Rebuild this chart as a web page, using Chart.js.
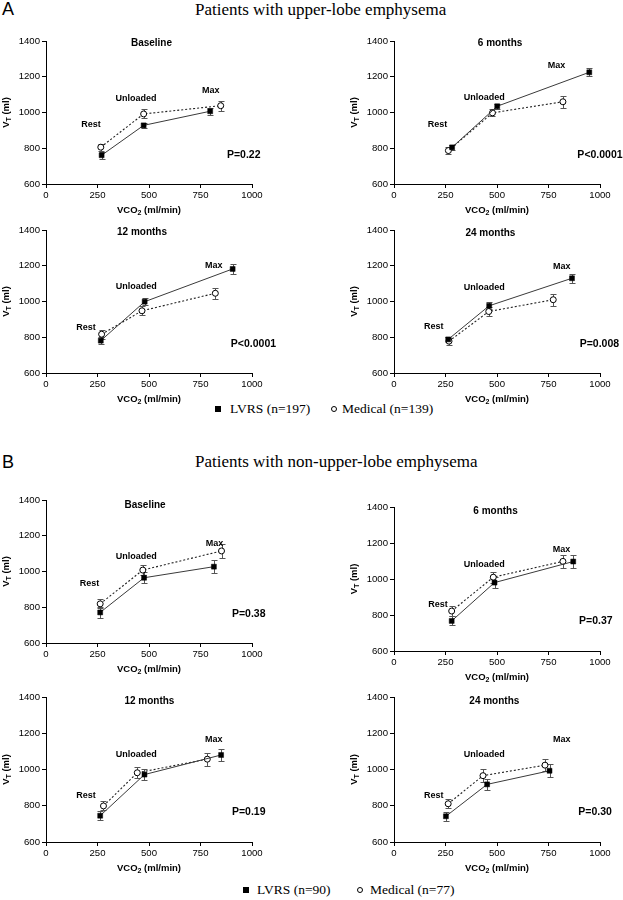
<!DOCTYPE html>
<html>
<head>
<meta charset="utf-8">
<script src="https://cdn.jsdelivr.net/npm/chart.js@4.4.0/dist/chart.umd.min.js"></script>
<style>
  html, body { margin: 0; padding: 0; background: #fff; }
  body { width: 623px; height: 900px; position: relative; overflow: hidden; }
  canvas { position: absolute; }
  .letter { position: absolute; left: 2px; font: 18px/18px "Liberation Sans", Arial, sans-serif; }
  .title { position: absolute; left: 195px; font: 17px/17px "Liberation Serif", "Times New Roman", serif; white-space: nowrap; }
  .leg { position: absolute; font: 13.5px/16px "Liberation Serif", "Times New Roman", serif; white-space: nowrap; }
  .sq { position: absolute; width: 6px; height: 6px; background: #000; }
  .ci { position: absolute; width: 4px; height: 4px; border: 1px solid #000; border-radius: 50%; }
</style>
</head>
<body>
<div class="letter" style="top:0px">A</div>
<div class="title" style="top:1px">Patients with upper-lobe emphysema</div>
<div class="letter" style="top:453px">B</div>
<div class="title" style="top:453px">Patients with non-upper-lobe emphysema</div>

<div class="sq" style="left:215px;top:406px"></div>
<div class="leg" style="left:230px;top:401px">LVRS (n=197)</div>
<div class="ci" style="left:331px;top:406px"></div>
<div class="leg" style="left:342px;top:401px">Medical (n=139)</div>

<div class="sq" style="left:243px;top:887px"></div>
<div class="leg" style="left:257px;top:882px">LVRS (n=90)</div>
<div class="ci" style="left:357px;top:887px"></div>
<div class="leg" style="left:370px;top:882px">Medical (n=77)</div>

<script>
const xTicks = [0, 250, 500, 750, 1000];
const yTicks = [600, 800, 1000, 1200, 1400];
const phases = ['Rest', 'Unloaded', 'Max'];
const panelTitles = ['Baseline', '6 months', '12 months', '24 months'];
const pTextA = ['P=0.22', 'P<0.0001', 'P<0.0001', 'P=0.008'];
const pTextB = ['P=0.38', 'P=0.37', 'P=0.19', 'P=0.30'];

// upper-lobe group: VCO2 (ml/min), VT (ml), error (ml) at Rest / Unloaded / Max
const lvrsVco2A = [[270, 474, 797], [282, 501, 948], [266, 479, 906], [263, 462, 864]];
const lvrsVtA   = [[761, 928, 1007], [805, 1035, 1225], [781, 999, 1182], [788, 976, 1130]];
const lvrsErrA  = [[20, 15, 20], [15, 15, 22], [20, 20, 28], [15, 20, 25]];
const medVco2A  = [[266, 474, 848], [264, 478, 820], [270, 466, 822], [267, 460, 773]];
const medVtA    = [[806, 992, 1038], [787, 998, 1060], [817, 948, 1046], [778, 944, 1010]];
const medErrA   = [[20, 25, 28], [20, 20, 33], [25, 25, 30], [20, 25, 33]];

// non-upper-lobe group
const lvrsVco2B = [[263, 476, 815], [280, 488, 870], [263, 478, 850], [252, 452, 755]];
const lvrsVtB   = [[771, 965, 1027], [767, 980, 1097], [745, 972, 1080], [742, 918, 993]];
const lvrsErrB  = [[33, 30, 35], [25, 30, 35], [25, 32, 35], [25, 32, 35]];
const medVco2B  = [[263, 470, 852], [280, 482, 820], [279, 443, 783], [263, 432, 733]];
const medVtB    = [[819, 1008, 1115], [822, 1010, 1098], [799, 982, 1057], [811, 966, 1024]];
const medErrB   = [[25, 30, 38], [28, 30, 35], [25, 30, 35], [25, 35, 35]];

// layout: plot area left, top, height (page px)
const boxes = [
  [46, 41, 143], [394, 41, 143], [46, 230, 143], [394, 230, 143],
  [46, 500, 143], [394, 507, 144], [46, 697, 145], [394, 697, 145]
];
// text placement in axis units: panel title, phase labels, p value
const notesA = [
  { title: [512, 1387], phase: [[218, 930], [437, 1081], [800, 1124]], p: [960, 761] },
  { title: [515, 1387], phase: [[211, 934], [438, 1082], [789, 1261]], p: [1000, 763] },
  { title: [466, 1385], phase: [[194, 857], [438, 1084], [814, 1199]], p: [1007, 764] },
  { title: [468, 1382], phase: [[193, 858], [438, 1080], [814, 1197]], p: [997, 762] }
];
const notesB = [
  { title: [481, 1370], phase: [[211, 935], [438, 1084], [818, 1158]], p: [984, 764] },
  { title: [493, 1378], phase: [[214, 859], [438, 1081], [813, 1163]], p: [980, 765] },
  { title: [502, 1376], phase: [[194, 858], [438, 1084], [814, 1163]], p: [984, 766] },
  { title: [487, 1376], phase: [[193, 858], [438, 1084], [814, 1163]], p: [976, 766] }
];

const SANS = '"Liberation Sans", Arial, sans-serif';

function subText(ctx, a, sub, b, cx, cy) {
  const main = 'bold 9.5px ' + SANS, small = 'bold 7px ' + SANS;
  ctx.font = main; const w1 = ctx.measureText(a).width, w3 = ctx.measureText(b).width;
  ctx.font = small; const w2 = ctx.measureText(sub).width;
  let x0 = cx - (w1 + w2 + w3) / 2;
  ctx.textAlign = 'left';
  ctx.font = main; ctx.fillText(a, x0, cy);
  ctx.font = small; ctx.fillText(sub, x0 + w1, cy + 3);
  ctx.font = main; ctx.fillText(b, x0 + w1 + w2, cy);
}

const panelPlugin = {
  id: 'panel',
  beforeDatasetsDraw(chart) {
    const { ctx, scales: { x, y } } = chart;
    ctx.save();
    ctx.strokeStyle = '#555';
    ctx.lineWidth = 1;
    chart.data.datasets.forEach(ds => {
      ds.data.forEach((p, i) => {
        const px = Math.round(x.getPixelForValue(p.x)) + 0.5;
        const t = Math.round(y.getPixelForValue(p.y + ds.err[i])) + 0.5;
        const b = Math.round(y.getPixelForValue(p.y - ds.err[i])) + 0.5;
        ctx.beginPath();
        ctx.moveTo(px, t); ctx.lineTo(px, b);
        ctx.moveTo(px - 3, t); ctx.lineTo(px + 3, t);
        ctx.moveTo(px - 3, b); ctx.lineTo(px + 3, b);
        ctx.stroke();
      });
    });
    ctx.restore();
  },
  afterDraw(chart, args, opts) {
    const { ctx, chartArea: a, scales: { x, y } } = chart;
    const n = opts.notes;
    ctx.save();
    ctx.fillStyle = '#000';
    ctx.textAlign = 'center';
    ctx.textBaseline = 'middle';
    ctx.font = 'bold 10px ' + SANS;
    ctx.fillText(opts.title, x.getPixelForValue(n.title[0]), y.getPixelForValue(n.title[1]));
    ctx.font = 'bold 9px ' + SANS;
    phases.forEach((ph, k) => {
      ctx.fillText(ph, x.getPixelForValue(n.phase[k][0]), y.getPixelForValue(n.phase[k][1]));
    });
    ctx.font = 'bold 10.5px ' + SANS;
    ctx.fillText(opts.pText, x.getPixelForValue(n.p[0]), y.getPixelForValue(n.p[1]));

    subText(ctx, 'VCO', '2', ' (ml/min)', (a.left + a.right) / 2, a.bottom + 26);
    ctx.translate(a.left - 40, (a.top + a.bottom) / 2);
    ctx.rotate(-Math.PI / 2);
    subText(ctx, 'V', 'T', ' (ml)', 0, 0);
    ctx.restore();
  }
};

function makePanel(box, vco2L, vtL, errL, vco2M, vtM, errM, title, pText, notes) {
  const [left, top, h] = box;
  const padR = Math.min(60, 623 - left - 206);
  const W = 46 + 206 + padR, H = 10 + h + 40;
  const canvas = document.createElement('canvas');
  canvas.width = W; canvas.height = H;
  canvas.style.width = W + 'px'; canvas.style.height = H + 'px';
  canvas.style.left = (left - 46) + 'px';
  canvas.style.top = (top - 10) + 'px';
  document.body.appendChild(canvas);

  const tickFont = { family: SANS, size: 9.6 };
  new Chart(canvas, {
    type: 'scatter',
    data: {
      datasets: [
        {
          label: 'LVRS',
          data: vco2L.map((v, k) => ({ x: v, y: vtL[k] })),
          err: errL,
          showLine: true,
          borderColor: '#3a3a3a',
          borderWidth: 1,
          pointStyle: 'rect',
          pointRadius: 3.5,
          pointBackgroundColor: '#000',
          pointBorderColor: '#000',
          pointBorderWidth: 0.5
        },
        {
          label: 'Medical',
          data: vco2M.map((v, k) => ({ x: v, y: vtM[k] })),
          err: errM,
          showLine: true,
          borderColor: '#222',
          borderWidth: 1.1,
          borderDash: [2, 2],
          pointStyle: 'circle',
          pointRadius: 3,
          pointBackgroundColor: '#fff',
          pointBorderColor: '#000',
          pointBorderWidth: 1
        }
      ]
    },
    options: {
      responsive: false,
      animation: false,
      devicePixelRatio: 1,
      layout: { padding: { left: 0, top: 10, right: padR, bottom: 0 } },
      plugins: {
        legend: { display: false },
        tooltip: { enabled: false },
        panel: { title, pText, notes }
      },
      scales: {
        x: {
          type: 'linear',
          min: xTicks[0], max: xTicks[xTicks.length - 1],
          afterBuildTicks: s => { s.ticks = xTicks.map(v => ({ value: v })); },
          afterFit: s => { s.height = 40; },
          ticks: { font: tickFont, color: '#000', padding: 2, maxRotation: 0, autoSkip: false, callback: v => String(v) },
          grid: { drawOnChartArea: false, color: '#000', tickLength: 4 },
          border: { color: '#000', width: 1 }
        },
        y: {
          min: yTicks[0], max: yTicks[yTicks.length - 1],
          afterBuildTicks: s => { s.ticks = yTicks.map(v => ({ value: v })); },
          afterFit: s => { s.width = 46; },
          ticks: { font: tickFont, color: '#000', padding: 2, callback: v => String(v) },
          grid: { drawOnChartArea: false, color: '#000', tickLength: 4 },
          border: { color: '#000', width: 1 }
        }
      }
    },
    plugins: [panelPlugin]
  });
}

for (let i = 0; i < 4; i++) {
  makePanel(boxes[i], lvrsVco2A[i], lvrsVtA[i], lvrsErrA[i], medVco2A[i], medVtA[i], medErrA[i],
    panelTitles[i], pTextA[i], notesA[i]);
  makePanel(boxes[i + 4], lvrsVco2B[i], lvrsVtB[i], lvrsErrB[i], medVco2B[i], medVtB[i], medErrB[i],
    panelTitles[i], pTextB[i], notesB[i]);
}
</script>
</body>
</html>
